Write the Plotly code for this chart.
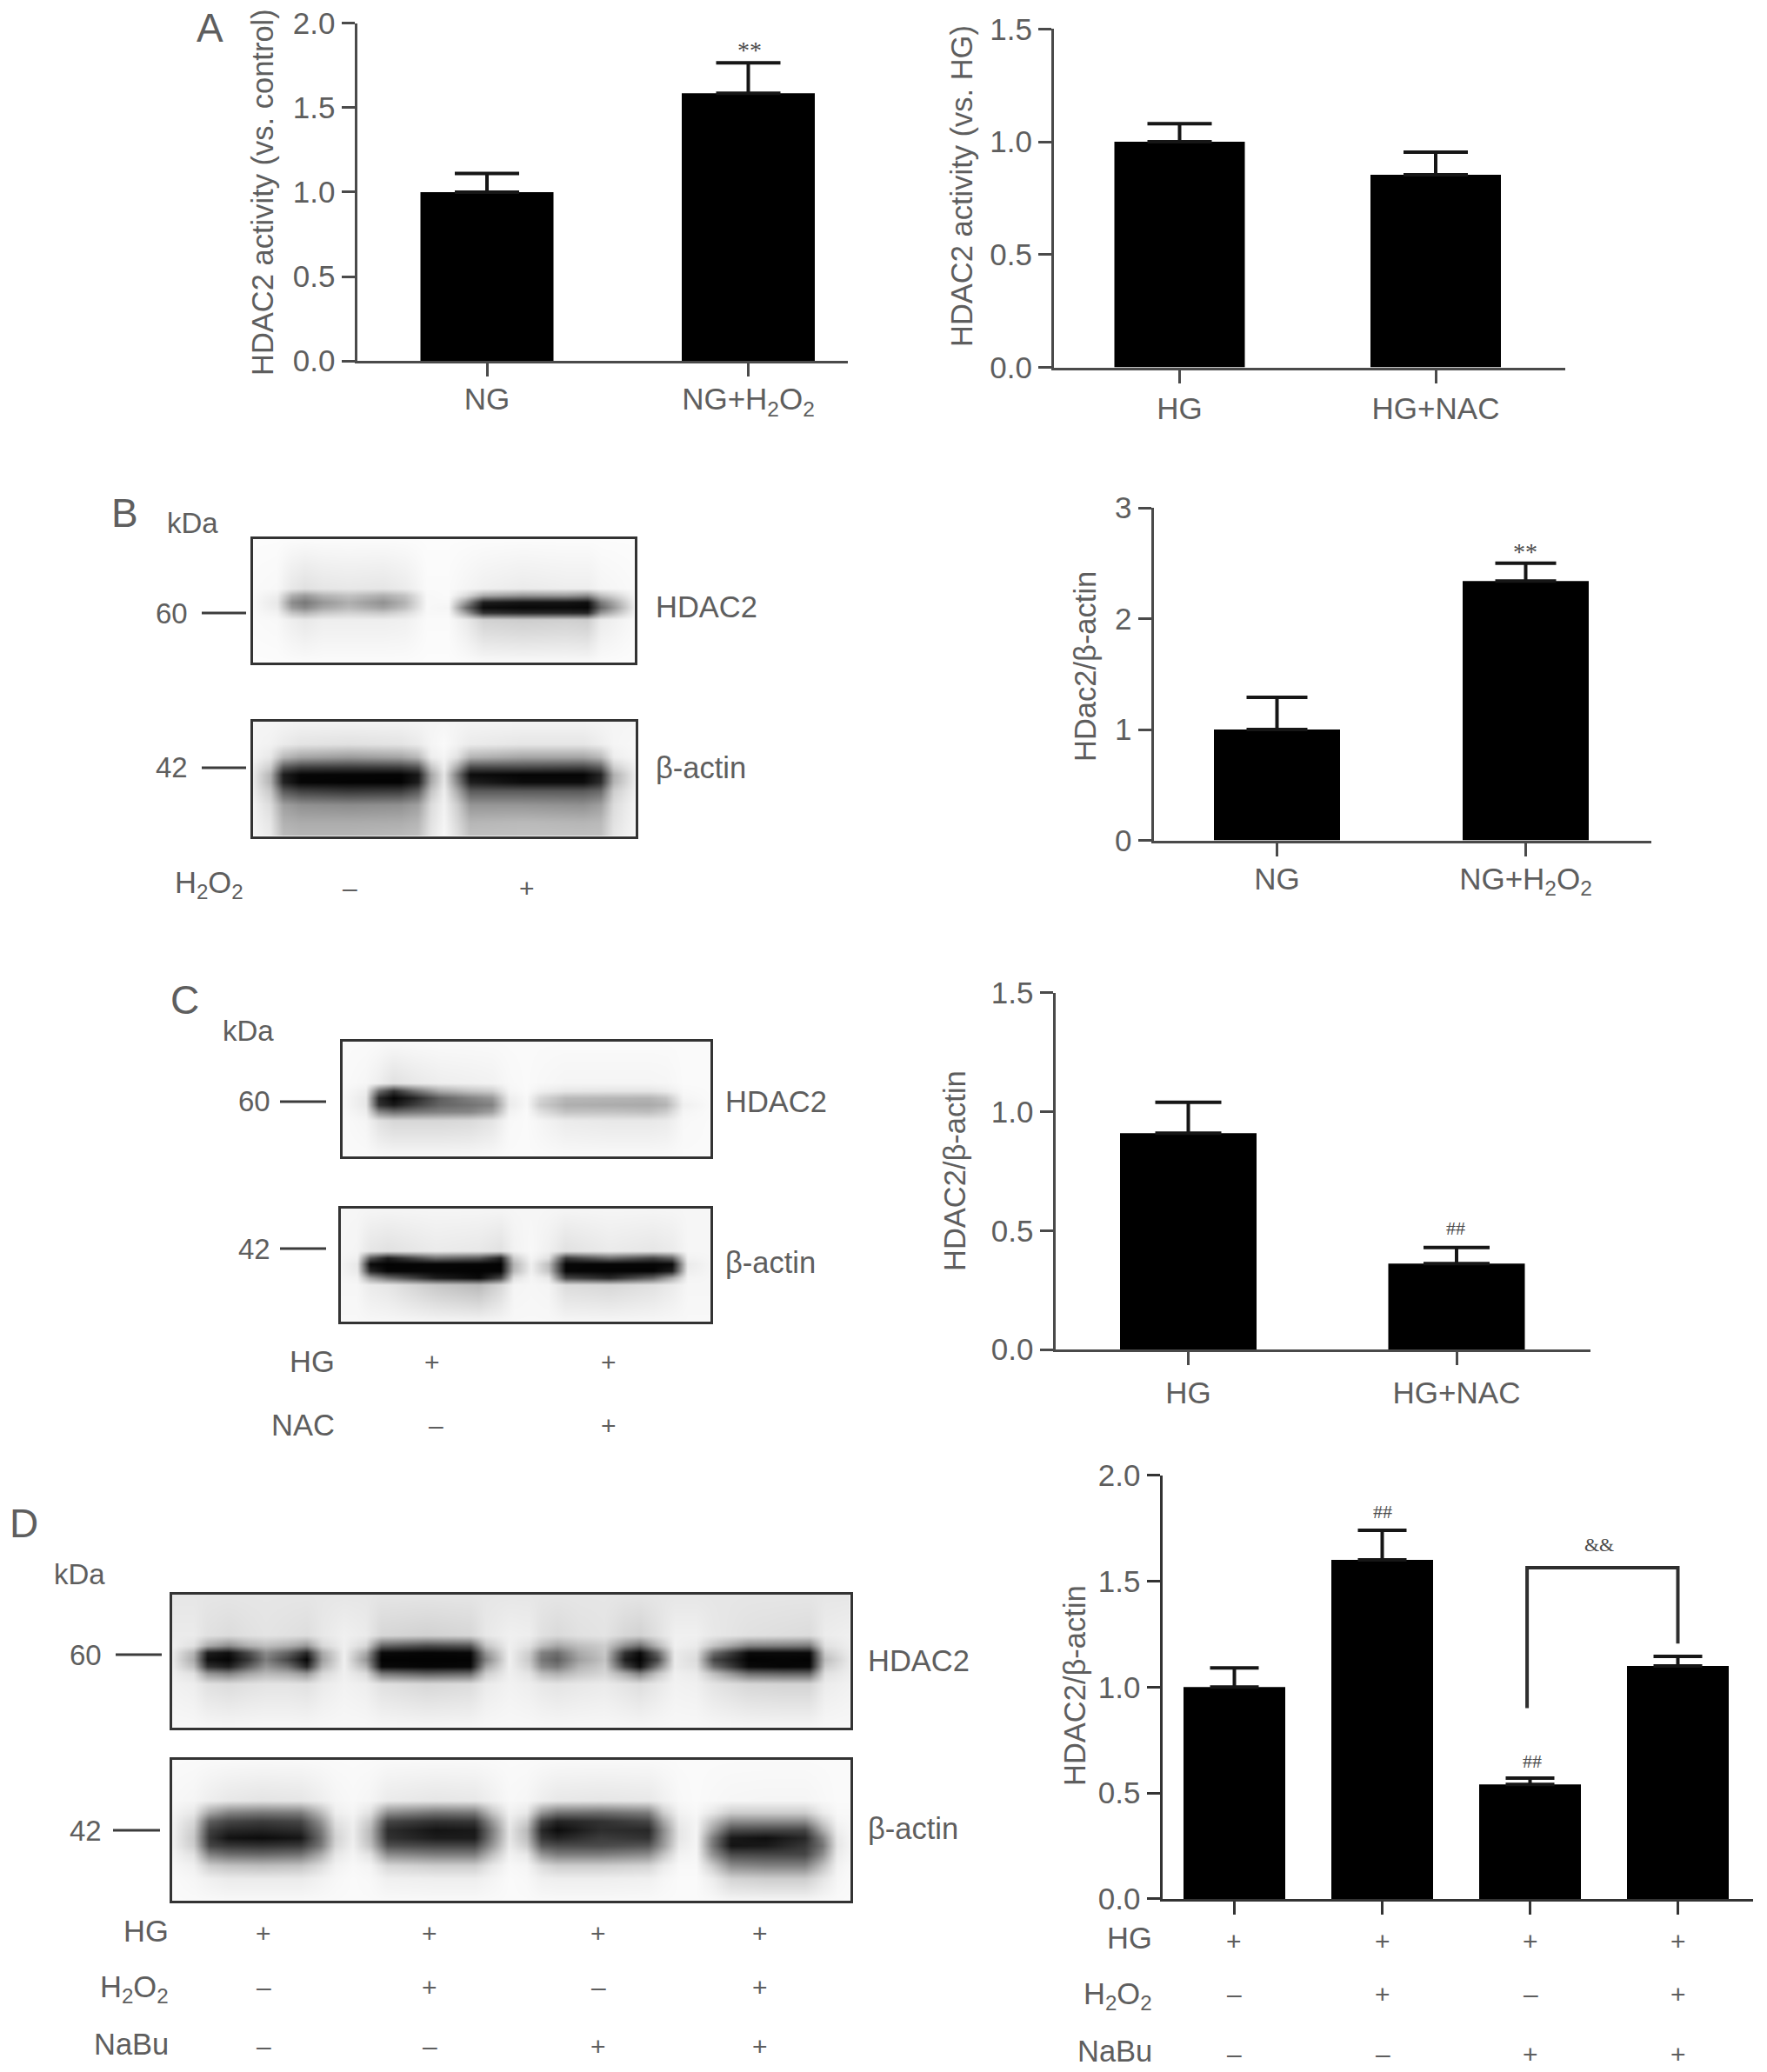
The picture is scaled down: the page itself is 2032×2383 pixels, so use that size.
import plotly.graph_objects as go

W, H = 2032, 2383

# ---------- bar chart data ----------
A1_LABELS = ["NG", "NG+H<sub>2</sub>O<sub>2</sub>"]
A1_VALUES = [1.0, 1.585]
A1_ERRORS = [0.11, 0.18]
A2_LABELS = ["HG", "HG+NAC"]
A2_VALUES = [1.0, 0.854]
A2_ERRORS = [0.08, 0.10]
B_LABELS = ["NG", "NG+H<sub>2</sub>O<sub>2</sub>"]
B_VALUES = [1.0, 2.34]
B_ERRORS = [0.29, 0.16]
C_LABELS = ["HG", "HG+NAC"]
C_VALUES = [0.91, 0.362]
C_ERRORS = [0.13, 0.067]
D_VALUES = [1.0, 1.60, 0.54, 1.10]
D_ERRORS = [0.09, 0.14, 0.03, 0.045]
D_BRACKET_X = [1.98, 1.98, 3.0, 3.0]
D_BRACKET_Y = [0.90, 1.563, 1.563, 1.205]

D_ROWS = ["HG", "H<sub>2</sub>O<sub>2</sub>", "NaBu"]
D_HG = ["+", "+", "+", "+"]
D_H2O2 = ["–", "+", "–", "+"]
D_NABU = ["–", "–", "+", "+"]

# ---------- blot grey levels (0 black, 255 white) ----------
BT_X = [288, 318, 335, 350, 370, 400, 440, 465, 490, 515, 535, 555, 600, 650, 675, 690, 732]
BT_Y = [617, 676, 684, 692, 698, 704, 712, 764]
BT_Z = [
    [252] * 17,
    [250, 248, 232, 225, 230, 232, 230, 236, 250, 250, 245, 240, 235, 238, 238, 245, 250],
    [250, 238, 175, 155, 180, 195, 175, 195, 248, 250, 220, 170, 150, 155, 140, 190, 250],
    [250, 232, 140, 120, 150, 175, 145, 180, 248, 248, 150, 30, 20, 20, 15, 120, 250],
    [250, 235, 155, 135, 165, 185, 160, 190, 248, 245, 110, 12, 8, 10, 8, 100, 248],
    [250, 242, 195, 180, 200, 210, 200, 218, 248, 248, 160, 50, 40, 40, 38, 150, 250],
    [250, 248, 238, 232, 238, 238, 238, 240, 250, 250, 235, 210, 205, 208, 205, 235, 250],
    [252] * 17,
]

BB_X = [288, 310, 325, 345, 400, 460, 480, 495, 510, 525, 540, 600, 670, 690, 705, 733]
BB_Y = [827, 855, 870, 882, 890, 899, 909, 925, 945, 964]
BB_Z = [
    [245] * 16,
    [245, 242, 235, 228, 225, 228, 235, 245, 250, 242, 235, 230, 230, 238, 245, 248],
    [245, 232, 185, 165, 155, 165, 185, 238, 245, 225, 180, 165, 165, 185, 238, 248],
    [240, 205, 85, 60, 55, 60, 80, 195, 238, 165, 70, 70, 65, 90, 205, 245],
    [240, 180, 30, 6, 5, 4, 25, 165, 230, 120, 12, 5, 5, 35, 175, 245],
    [240, 180, 35, 5, 3, 3, 30, 170, 232, 135, 30, 12, 12, 45, 180, 245],
    [240, 200, 90, 65, 55, 60, 90, 195, 238, 170, 90, 90, 90, 105, 205, 245],
    [245, 220, 160, 145, 140, 145, 160, 220, 242, 205, 150, 150, 145, 160, 220, 248],
    [245, 230, 178, 172, 172, 174, 182, 226, 245, 216, 182, 186, 182, 186, 226, 248],
    [248, 235, 190, 185, 185, 190, 195, 232, 248, 225, 195, 195, 195, 195, 232, 248],
]

CT_X = [391, 420, 435, 452, 475, 505, 540, 565, 585, 605, 620, 650, 700, 745, 765, 785, 819]
CT_Y = [1195, 1245, 1254, 1262, 1270, 1278, 1288, 1332]
CT_Z = [
    [250] * 17,
    [250, 246, 238, 225, 232, 238, 240, 242, 248, 250, 248, 245, 245, 245, 246, 250, 250],
    [250, 238, 110, 50, 110, 170, 195, 205, 245, 250, 240, 230, 228, 228, 235, 248, 250],
    [250, 232, 40, 5, 35, 95, 130, 150, 238, 248, 215, 185, 182, 180, 195, 245, 250],
    [250, 232, 50, 25, 60, 100, 115, 130, 235, 248, 205, 175, 172, 170, 180, 240, 250],
    [250, 238, 135, 110, 120, 130, 135, 160, 242, 250, 225, 195, 195, 190, 205, 245, 250],
    [250, 245, 225, 215, 215, 215, 218, 228, 248, 250, 245, 235, 232, 232, 235, 248, 250],
    [250] * 17,
]

CB_X = [389, 410, 425, 445, 500, 550, 575, 590, 610, 630, 650, 700, 750, 772, 790, 819]
CB_Y = [1387, 1438, 1446, 1453, 1461, 1469, 1477, 1522]
CB_Z = [
    [246] * 16,
    [246, 244, 230, 225, 235, 232, 225, 242, 248, 240, 225, 235, 230, 235, 246, 246],
    [246, 240, 90, 30, 110, 90, 35, 205, 245, 225, 60, 110, 70, 100, 242, 246],
    [246, 232, 10, 3, 5, 5, 3, 180, 240, 190, 6, 5, 5, 10, 235, 246],
    [246, 234, 40, 5, 5, 3, 5, 185, 240, 195, 6, 4, 4, 30, 238, 246],
    [246, 242, 160, 110, 30, 10, 70, 225, 245, 232, 70, 40, 100, 170, 244, 246],
    [246, 246, 235, 230, 200, 185, 215, 244, 246, 244, 220, 215, 225, 235, 246, 246],
    [248] * 16,
]

DT_X = [195, 222, 238, 262, 285, 305, 330, 352, 370, 395, 420, 438, 490, 540, 558, 585,
        608, 622, 640, 665, 695, 718, 735, 755, 775, 800, 820, 860, 900, 930, 948, 980]
DT_Y = [1831, 1880, 1892, 1900, 1908, 1916, 1924, 1936, 1989]
DT_Z = [
    [230] * 32,
    [235, 235, 225, 220, 225, 228, 225, 222, 232, 240, 235, 215, 210, 215, 232, 240,
     238, 225, 218, 225, 228, 215, 210, 225, 240, 240, 232, 225, 222, 220, 236, 240],
    [240, 225, 170, 140, 175, 190, 175, 150, 215, 240, 215, 100, 75, 85, 195, 240,
     225, 190, 165, 190, 205, 140, 110, 180, 240, 235, 195, 130, 125, 120, 225, 240],
    [240, 180, 30, 15, 75, 140, 100, 40, 170, 240, 170, 10, 5, 8, 150, 240,
     205, 130, 110, 170, 200, 50, 10, 100, 235, 225, 110, 10, 10, 10, 205, 240],
    [240, 170, 15, 5, 55, 125, 70, 6, 160, 240, 150, 3, 3, 3, 130, 240,
     200, 120, 95, 160, 195, 30, 3, 70, 235, 220, 70, 3, 5, 3, 190, 240],
    [240, 190, 50, 30, 95, 150, 115, 40, 180, 240, 180, 10, 5, 8, 165, 240,
     210, 140, 120, 180, 205, 70, 15, 120, 235, 225, 110, 10, 5, 8, 205, 240],
    [240, 225, 150, 130, 165, 185, 175, 150, 215, 240, 220, 120, 95, 105, 205, 240,
     228, 190, 175, 200, 215, 170, 130, 195, 240, 235, 190, 110, 100, 100, 225, 240],
    [242, 238, 225, 220, 225, 228, 228, 225, 235, 242, 238, 225, 215, 220, 235, 242,
     238, 232, 228, 232, 235, 228, 222, 232, 242, 240, 228, 215, 212, 212, 236, 242],
    [248] * 32,
]

DB_X = [195, 222, 240, 262, 300, 345, 368, 385, 405, 425, 445, 500, 545, 565, 585,
        605, 622, 640, 690, 745, 762, 780, 800, 818, 840, 880, 925, 945, 962, 980]
DB_Y = [2021, 2070, 2084, 2094, 2104, 2113, 2122, 2132, 2145, 2160, 2188]
DB_Z = [
    [250] * 30,
    [248, 245, 238, 232, 228, 230, 238, 245, 248, 245, 235, 230, 232, 240, 248,
     246, 238, 232, 230, 232, 240, 248, 250, 248, 246, 245, 245, 248, 250, 250],
    [246, 232, 165, 130, 120, 125, 185, 238, 245, 225, 140, 115, 120, 195, 242,
     232, 150, 115, 110, 125, 205, 242, 248, 232, 205, 205, 205, 235, 248, 248],
    [245, 215, 95, 70, 60, 70, 145, 225, 240, 200, 70, 50, 55, 150, 235,
     205, 70, 35, 50, 70, 165, 235, 245, 195, 140, 140, 140, 205, 244, 248],
    [245, 205, 65, 40, 35, 45, 120, 215, 238, 185, 45, 20, 25, 125, 230,
     185, 40, 12, 45, 40, 140, 230, 245, 165, 75, 70, 70, 170, 238, 248],
    [245, 200, 55, 18, 12, 22, 110, 210, 238, 185, 50, 28, 28, 130, 230,
     190, 55, 35, 60, 50, 145, 230, 245, 130, 25, 15, 40, 130, 232, 248],
    [245, 205, 70, 55, 50, 58, 120, 215, 240, 195, 80, 70, 70, 150, 235,
     205, 90, 75, 75, 85, 155, 235, 245, 125, 20, 25, 55, 115, 230, 248],
    [246, 225, 130, 110, 105, 115, 170, 230, 244, 225, 140, 125, 125, 190, 242,
     232, 150, 125, 125, 140, 195, 242, 246, 150, 75, 70, 70, 140, 235, 248],
    [248, 240, 205, 195, 190, 195, 220, 242, 248, 244, 215, 205, 205, 232, 248,
     245, 220, 205, 205, 212, 235, 248, 248, 205, 140, 130, 130, 190, 242, 250],
    [250, 246, 240, 235, 235, 235, 242, 247, 250, 248, 240, 238, 238, 244, 250,
     248, 240, 238, 238, 240, 246, 250, 250, 238, 212, 205, 205, 228, 246, 250],
    [250] * 30,
]

# ---------- styling ----------
FONT = "Liberation Sans"
SERIF = "Liberation Serif"
TXT = "#5e5e5e"
AXC = "#4a4a4a"
SIZE = 34.5
TICK = 35
SMALL = 33

fig = go.Figure()
axis_no = 0
anns = []


def px_x(x):
    return x / W


def px_y(y):
    return 1 - y / H


def note(x, y, text, size=SIZE, anchor="center", angle=0, family=FONT, color=TXT):
    anns.append(dict(xref="paper", yref="paper", x=px_x(x), y=px_y(y), text=text, showarrow=False,
                     xanchor=anchor, yanchor="middle", textangle=angle,
                     font=dict(family=family, size=size, color=color)))


def line(x0, x1, y):
    fig.add_shape(type="line", xref="paper", yref="paper", x0=px_x(x0), x1=px_x(x1), y0=px_y(y), y1=px_y(y),
                  line=dict(color="#3c3c3c", width=3))


def new_axes():
    global axis_no
    axis_no += 1
    suffix = "" if axis_no == 1 else str(axis_no)
    return suffix


def bars(values, errors, labels, ymax, dtick, fmt, xl, xr, yt, yb, centers, width, cap, standoff=0, axc=AXC):
    s = new_axes()
    # axis lines sit just outside the plot area, so the area is pulled in by half a line
    xl, yb = xl + 1.5, yb - 1.5
    u = (centers[-1] - centers[0]) / (len(centers) - 1)
    positions = list(range(len(values)))
    fig.add_trace(go.Bar(
        x=positions, y=values, width=width / u, xaxis="x" + s, yaxis="y" + s,
        marker=dict(color="#000000", line=dict(width=0)), showlegend=False, hoverinfo="skip",
        error_y=dict(type="data", symmetric=False, array=errors, arrayminus=[0] * len(errors),
                     color="#161616", thickness=4, width=cap),
    ))
    xa = dict(
        domain=[px_x(xl), px_x(xr)], range=[(xl - centers[0]) / u, (xr - centers[0]) / u],
        anchor="y" + s, showgrid=False, zeroline=False, showline=True, linecolor=axc, linewidth=3,
        automargin=False, ticks="outside", ticklen=15, tickwidth=3, tickcolor=axc, tickmode="array",
        tickvals=positions, tickangle=0, tickfont=dict(family=FONT, size=TICK, color=TXT))
    if labels:
        xa.update(ticktext=labels, ticklabelstandoff=standoff)
    else:
        xa.update(showticklabels=False)
    fig.layout["xaxis" + s] = xa
    fig.layout["yaxis" + s] = dict(
        domain=[px_y(yb), px_y(yt)], range=[0, ymax], anchor="x" + s, showgrid=False, zeroline=False,
        automargin=False, showline=True, linecolor=axc, linewidth=3, ticks="outside", ticklen=15, tickwidth=3,
        tickcolor=axc, tick0=0, dtick=dtick, tickformat=fmt, tickfont=dict(family=FONT, size=TICK, color=TXT))
    return s


def blot(xk, yk, z):
    s = new_axes()
    fig.add_trace(go.Heatmap(x=xk, y=yk, z=z, zmin=0, zmax=255, zsmooth="best", showscale=False,
                             colorscale=[[0, "#000000"], [1, "#ffffff"]], hoverinfo="skip",
                             xaxis="x" + s, yaxis="y" + s))
    frame = dict(showgrid=False, zeroline=False, showline=True, mirror=True, linecolor="#333333", linewidth=3,
                 ticks="", showticklabels=False, automargin=False)
    inset = 2.5
    fig.layout["xaxis" + s] = dict(domain=[px_x(xk[0] + inset), px_x(xk[-1] - inset)],
                                   range=[xk[0] + inset, xk[-1] - inset], anchor="y" + s, **frame)
    fig.layout["yaxis" + s] = dict(domain=[px_y(yk[-1] - inset), px_y(yk[0] + inset)],
                                   range=[yk[-1] - inset, yk[0] + inset], anchor="x" + s, **frame)


# ---------- bar panels ----------
bars(A1_VALUES, A1_ERRORS, A1_LABELS, 2.0, 0.5, ".1f", 409, 975, 26.7, 416.7, [560, 860.5], 153, 37, standoff=-4)
note(302, 221, "HDAC2 activity (vs. control)", angle=-90)
bars(A2_VALUES, A2_ERRORS, A2_LABELS, 1.5, 0.5, ".1f", 1210.5, 1800, 33.3, 424, [1356.5, 1651], 150, 37, standoff=-1)
note(1106, 214, "HDAC2 activity (vs. HG)", angle=-90)
bars(B_VALUES, B_ERRORS, B_LABELS, 3, 1, "d", 1325, 1898.6, 584, 968, [1468.5, 1754.5], 145, 35, standoff=-4)
note(1248, 767, "HDac2/β-actin", angle=-90)
bars(C_VALUES, C_ERRORS, C_LABELS, 1.5, 0.5, ".1f", 1212, 1829, 1141.8, 1553.7, [1366.5, 1675], 157, 38, standoff=2)
note(1098, 1347, "HDAC2/β-actin", angle=-90)
sD = bars(D_VALUES, D_ERRORS, None, 2.0, 0.5, ".1f", 1335, 2016, 1696.6, 2185.4,
          [1419.5, 1589, 1759, 1929.5], 117, 28, axc="#333333")
note(1236, 1939, "HDAC2/β-actin", angle=-90)
fig.add_trace(go.Scatter(x=D_BRACKET_X, y=D_BRACKET_Y, mode="lines", xaxis="x" + sD, yaxis="y" + sD,
                         line=dict(color="#2e2e2e", width=4), showlegend=False, hoverinfo="skip"))

# significance marks
MARK = "#4a4a4a"
note(862, 58, "**", size=28, family=SERIF, color=MARK)
note(1754, 634, "**", size=28, family=SERIF, color=MARK)
note(1674, 1412, "##", size=22, family=SERIF, color=MARK)
note(1590, 1738, "##", size=22, family=SERIF, color=MARK)
note(1762, 2025, "##", size=22, family=SERIF, color=MARK)
note(1839, 1776, "&&", size=22, family=SERIF, color=MARK)

# ---------- blots ----------
blot(BT_X, BT_Y, BT_Z)
blot(BB_X, BB_Y, BB_Z)
blot(CT_X, CT_Y, CT_Z)
blot(CB_X, CB_Y, CB_Z)
blot(DT_X, DT_Y, DT_Z)
blot(DB_X, DB_Y, DB_Z)

# ---------- panel letters and blot labels ----------
note(241, 32, "A", size=46)
note(143, 590, "B", size=46)
note(212, 1150, "C", size=46)
note(27, 1752, "D", size=46)

note(221, 601, "kDa", size=SMALL)
note(197, 705, "60", size=SMALL)
line(232, 283, 705)
note(197, 883, "42", size=SMALL)
line(232, 283, 883)
note(752, 698, "HDAC2", anchor="left")
note(752, 883, "β-actin", anchor="left")
note(282, 1017, "H<sub>2</sub>O<sub>2</sub>", anchor="right")
note(402, 1021, "–", size=30)
note(606, 1021, "+", size=30)

note(285, 1185, "kDa", size=SMALL)
note(292, 1267, "60", size=SMALL)
line(322, 375, 1267)
note(292, 1436, "42", size=SMALL)
line(322, 375, 1436)
note(832, 1267, "HDAC2", anchor="left")
note(832, 1452, "β-actin", anchor="left")
note(387, 1566, "HG", anchor="right")
note(387, 1639, "NAC", anchor="right")
note(497, 1566, "+", size=30)
note(700, 1566, "+", size=30)
note(501, 1639, "–", size=30)
note(700, 1639, "+", size=30)

note(91, 1810, "kDa", size=SMALL)
note(98, 1903, "60", size=SMALL)
line(133, 186, 1903)
note(98, 2105, "42", size=SMALL)
line(130, 184, 2105)
note(996, 1910, "HDAC2", anchor="left")
note(996, 2103, "β-actin", anchor="left")

for name, y in zip(D_ROWS, [2221, 2287, 2351]):
    note(196, y, name, anchor="right")
for row, y in zip([D_HG, D_H2O2, D_NABU], [2223, 2285, 2353]):
    for sym, x in zip(row, [303, 494, 688, 874]):
        note(x, y, sym, size=30)

for name, y in zip(D_ROWS, [2229, 2295, 2359]):
    note(1327, y, name, anchor="right")
for row, y in zip([D_HG, D_H2O2, D_NABU], [2232, 2293, 2362]):
    for sym, x in zip(row, [1419, 1590, 1760, 1930]):
        note(x, y, sym, size=30)

fig.update_layout(template="none", width=W, height=H, margin=dict(l=0, r=0, t=0, b=0, autoexpand=False),
                  paper_bgcolor="white", plot_bgcolor="rgba(0,0,0,0)", showlegend=False, annotations=anns,
                  barmode="overlay")

fig.write_html("out.html", config={"displayModeBar": False},
               post_script="document.body.style.margin='0';document.body.style.overflow='hidden';")
